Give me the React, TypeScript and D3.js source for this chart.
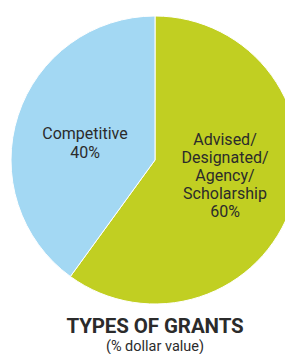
import React from 'react';
import * as d3 from "d3";

const categories = ["Advised/Designated/Agency/Scholarship", "Competitive"];
const shares = [60, 40];
const labelLines = [["Advised/", "Designated/", "Agency/", "Scholarship", "60%"], ["Competitive", "40%"]];
const colors = ["#c1cf22", "#a3d8f3"];

const App = () => {
    const width = 285,
        height = 354,
        cx = 155,
        cy = 160,
        radius = 144;

    const pie = d3.pie<number>().sort(null)(shares);
    const arc = d3.arc<d3.PieArcDatum<number>>().innerRadius(0).outerRadius(radius);

    // label anchor (centre x, first baseline) picked by eye, relative to pie centre
    const labelPos = [[70, -15], [-70, -21]];

    return (
        <svg width={width} height={height} style={{ position: "absolute", left: 0, top: 0 }}>
            <g transform={`translate(${cx},${cy})`}>
                {pie.map((d, i) => (
                    <path key={categories[i]} d={arc(d) || ""} fill={colors[i]} stroke="#fff" strokeWidth={1} />
                ))}
                {labelLines.map((lines, i) => {
                    const lh = i === 0 ? 18 : 19;
                    const [x, y0] = labelPos[i];
                    return (
                        <text key={i} textAnchor="middle" fontFamily="Roboto, sans-serif" fontSize={16} fill="#2b2b2b">
                            {lines.map((l, j) => (
                                <tspan key={j} x={x} y={y0 + j * lh}>{l}</tspan>
                            ))}
                        </text>
                    );
                })}
            </g>
            <text x={cx} y={332.5} textAnchor="middle" fontFamily="Roboto, sans-serif" fontWeight="bold" fontSize={20.5} fill="#2b2b2b" letterSpacing={-0.1}>TYPES OF GRANTS</text>
            <text x={cx} y={351} textAnchor="middle" fontFamily="Roboto, sans-serif" fontSize={14.5} fill="#2b2b2b">(% dollar value)</text>
        </svg>
    );
};

export default App;
